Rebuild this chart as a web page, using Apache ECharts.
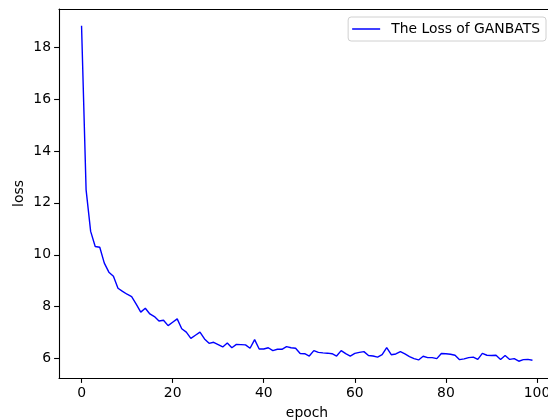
<!DOCTYPE html>
<html>
<head>
<meta charset="utf-8">
<script src="https://cdn.jsdelivr.net/npm/echarts@6/dist/echarts.min.js"></script>
<style>
html,body{margin:0;padding:0;background:#fff;overflow:hidden;}
#chart{width:548px;height:420px;}
</style>
</head>
<body>
<div id="chart"></div>
<script>
const seriesName = 'The Loss of GANBATS';
const lossValues = [
  18.82, 12.5, 10.9, 10.32, 10.29, 9.68, 9.33, 9.17, 8.71, 8.59,
  8.48, 8.39, 8.1, 7.79, 7.94, 7.72, 7.62, 7.45, 7.48, 7.27,
  7.4, 7.53, 7.15, 7.02, 6.78, 6.9, 7.02, 6.76, 6.59, 6.63,
  6.54, 6.45, 6.6, 6.42, 6.55, 6.54, 6.53, 6.4, 6.73, 6.37,
  6.37, 6.42, 6.31, 6.36, 6.36, 6.46, 6.42, 6.4, 6.2, 6.19,
  6.1, 6.31, 6.24, 6.22, 6.21, 6.19, 6.1, 6.31, 6.19, 6.1,
  6.2, 6.24, 6.27, 6.12, 6.1, 6.06, 6.15, 6.42, 6.15, 6.18,
  6.27, 6.18, 6.08, 6.0, 5.95, 6.09, 6.04, 6.04, 6.0, 6.2,
  6.19, 6.17, 6.13, 5.96, 5.99, 6.04, 6.06, 5.97, 6.2, 6.13,
  6.12, 6.13, 5.97, 6.12, 5.97, 6.0, 5.9, 5.96, 5.97, 5.94
];
const xTicks = [0, 20, 40, 60, 80, 100];
const yTicks = [6, 8, 10, 12, 14, 16, 18];

const data = lossValues.map((v, i) => [i, v]);
const font = 'DejaVu Sans';
const fs = 13.9;
const xMin = -4.95, xMax = 103.95;
const chart = echarts.init(document.getElementById('chart'), null, {renderer: 'canvas'});
chart.setOption({
  animation: false,
  backgroundColor: '#fff',
  textStyle: {fontFamily: font},
  grid: {left: 59, top: 9, width: 496, height: 369, outerBoundsMode: 'none', containLabel: false, show: false},
  legend: {
    right: 2, top: 17,
    data: [seriesName],
    icon: 'rect', itemWidth: 28, itemHeight: 1.5,
    padding: [5, 6, 5, 4],
    borderColor: '#d0d0d0', borderWidth: 1, borderRadius: 3,
    backgroundColor: '#fff',
    textStyle: {fontFamily: font, fontSize: fs, color: '#000', padding: [0, 0, 0, 6]}
  },
  xAxis: [{
    type: 'value', min: xMin, max: xMax,
    name: 'epoch', nameLocation: 'middle', nameGap: 28,
    nameTextStyle: {fontFamily: font, fontSize: fs, color: '#000'},
    axisLine: {show: true, onZero: false, lineStyle: {color: '#000', width: 1.1}},
    axisTick: {show: true, length: 4.9, customValues: xTicks, lineStyle: {color: '#000', width: 1.1}},
    axisLabel: {customValues: xTicks, fontFamily: font, fontSize: fs, color: '#000', margin: 8},
    splitLine: {show: false}
  }, {
    type: 'value', position: 'top', min: xMin, max: xMax,
    axisLine: {show: true, onZero: false, lineStyle: {color: '#000', width: 1.1}},
    axisTick: {show: false}, axisLabel: {show: false}, splitLine: {show: false}
  }],
  yAxis: {
    type: 'value', min: 5.254, max: 19.466,
    name: 'loss', nameLocation: 'middle', nameGap: 33, nameRotate: 90,
    nameMoveOverlap: false,
    nameTextStyle: {fontFamily: font, fontSize: fs, color: '#000'},
    axisLine: {show: true, onZero: false, lineStyle: {color: '#000', width: 1.1}},
    axisTick: {show: true, length: 4.9, customValues: yTicks, lineStyle: {color: '#000', width: 1.1}},
    axisLabel: {customValues: yTicks, fontFamily: font, fontSize: fs, color: '#000', margin: 8},
    splitLine: {show: false}
  },
  series: [{
    name: seriesName,
    type: 'line',
    xAxisIndex: 0,
    data: data,
    symbol: 'none',
    lineStyle: {color: '#0000ff', width: 1.4},
    itemStyle: {color: '#0000ff'}
  }]
});
</script>
</body>
</html>
